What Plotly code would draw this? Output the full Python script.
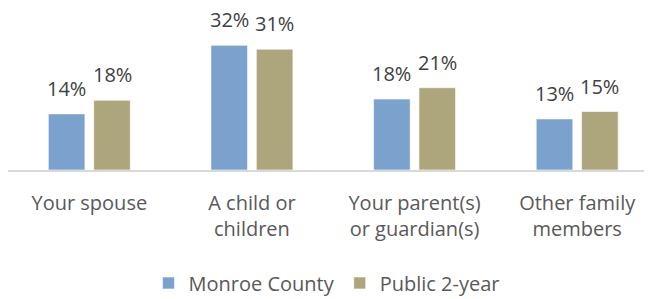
import plotly.graph_objects as go

categories = ["Your spouse", "A child or<br>children", "Your parent(s)<br>or guardian(s)", "Other family<br>members"]
series_names = ["Monroe County", "Public 2-year"]
monroe = [14.4, 32.0, 18.2, 13.1]
public2 = [17.9, 31.0, 21.1, 15.0]
colors = ["#7BA1CD", "#ADA57C"]

FONT = "Open Sans"
bar_w = 0.225
offsets = [-0.252, 0.027]

fig = go.Figure()
for name, vals, col, off in zip(series_names, [monroe, public2], colors, offsets):
    fig.add_trace(go.Bar(
        x=list(range(len(categories))), y=vals, name=name,
        marker=dict(color=col, line=dict(color="rgba(255,255,255,0.6)", width=1)),
        width=bar_w, offset=off,
    ))
    for i, v in enumerate(vals):
        fig.add_annotation(x=i + off + bar_w / 2, y=v, text=f"{v:.0f}%",
                           showarrow=False, yanchor="bottom", yshift=10,
                           font=dict(family=FONT, size=20, color="#404040"))

fig.update_layout(
    width=644, height=291,
    margin=dict(l=0, r=0, t=10, b=129),
    paper_bgcolor="white", plot_bgcolor="white",
    font=dict(family=FONT, size=20, color="#595959"),
    showlegend=True,
    legend=dict(orientation="h", xref="container", yref="container",
                x=(327 - 8) / 644, xanchor="center", y=0.055, yanchor="middle",
                font=dict(family=FONT, size=20, color="#595959"),
                itemwidth=30, traceorder="normal"),
    xaxis=dict(tickmode="array", tickvals=list(range(len(categories))), ticktext=categories,
               range=[-0.5, 3.46], showgrid=False, zeroline=False,
               showline=True, linecolor="#D9D9D9", linewidth=2, ticks="",
               ticklabelstandoff=14,
               tickfont=dict(family=FONT, size=20, color="#595959")),
    yaxis=dict(range=[0, 39], visible=False, showgrid=False, zeroline=False),
)

fig.write_html("out.html")
